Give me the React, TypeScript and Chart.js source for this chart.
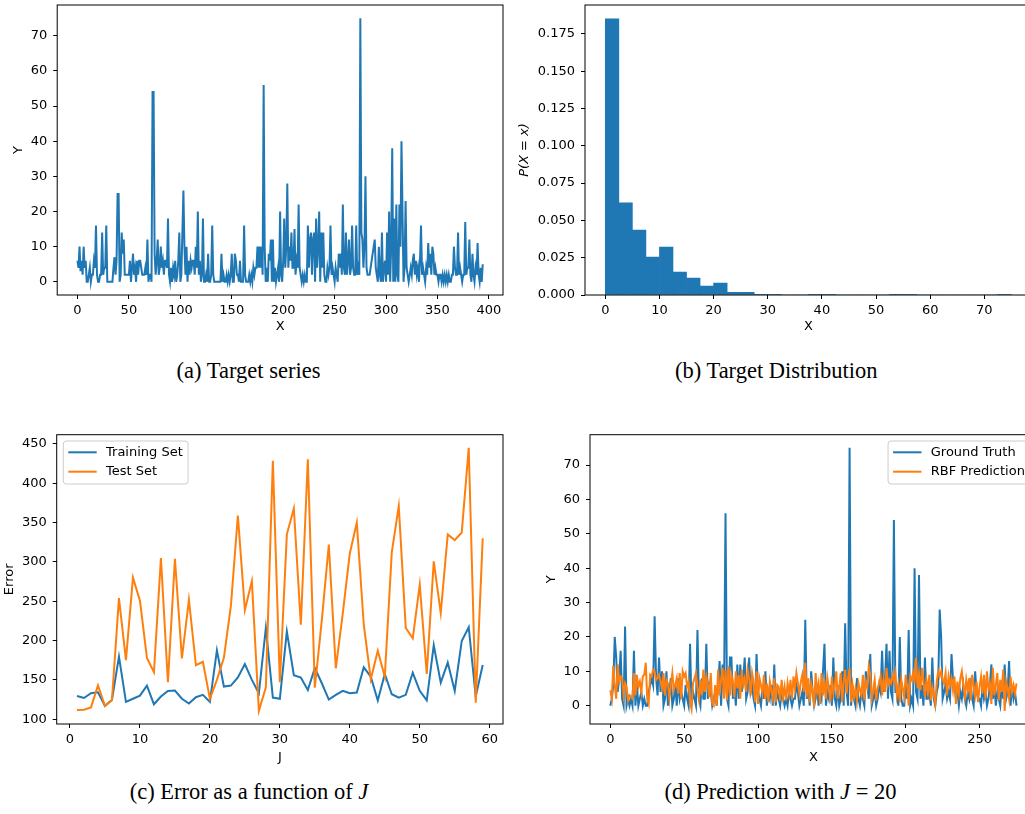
import React, { useEffect, useRef } from "react";
import { Chart, registerables } from "chart.js";

Chart.register(...registerables);

const FONT = "'DejaVu Sans', sans-serif";
const SERIF = "'Liberation Serif', 'Times New Roman', serif";
const BLUE = "#1f77b4";
const ORANGE = "#ff7f0e";

// ---------- (a) Target series ----------
const targetSeries = [
  6, 4, 10, 3, 6, 2, 10, 4, 6, 0,
  0, 2, 4, 0, 2, 2, 6, 4, 16, 2,
  0, 0, 2, 2, 14, 2, 4, 4, 16, 0,
  0, 0, 0, 0, 0, 4, 7, 2, 6, 25,
  25, 0, 2, 14, 8, 12, 2, 2, 2, 2,
  2, 6, 0, 4, 8, 2, 4, 0, 6, 2,
  6, 6, 4, 2, 2, 2, 4, 2, 12, 0,
  2, 2, 0, 54, 54, 8, 2, 6, 12, 2,
  4, 10, 4, 6, 2, 6, 6, 4, 18, 2,
  0, 4, 0, 4, 2, 6, 0, 2, 6, 14,
  0, 2, 14, 26, 10, 2, 10, 0, 6, 2,
  6, 4, 6, 6, 2, 10, 4, 20, 2, 6,
  0, 2, 18, 0, 0, 2, 0, 8, 0, 0,
  2, 16, 2, 0, 0, 0, 0, 0, 0, 0,
  8, 0, 2, 0, 0, 2, 0, 2, 0, 2,
  8, 0, 0, 8, 6, 2, 2, 0, 6, 0,
  0, 0, 16, 2, 0, 0, 0, 2, 0, 2,
  0, 4, 2, 4, 4, 10, 4, 10, 4, 10,
  2, 56, 10, 0, 4, 0, 8, 6, 12, 0,
  12, 0, 4, 0, 2, 4, 0, 20, 2, 0,
  6, 18, 4, 10, 28, 4, 10, 6, 14, 4,
  4, 15, 2, 6, 4, 22, 4, 2, 0, 2,
  0, 2, 0, 0, 16, 4, 12, 14, 2, 12,
  14, 0, 18, 4, 10, 20, 0, 14, 4, 14,
  2, 0, 0, 4, 2, 4, 16, 2, 4, 2,
  0, 4, 2, 0, 8, 4, 8, 2, 22, 4,
  2, 14, 2, 6, 12, 2, 4, 16, 4, 2,
  2, 16, 2, 4, 2, 75, 14, 12, 4, 10,
  30, 4, 2, 2, 2, 4, 6, 8, 10, 12,
  4, 2, 0, 10, 2, 0, 14, 0, 4, 6,
  0, 14, 2, 20, 0, 10, 38, 0, 18, 0,
  22, 2, 0, 22, 10, 40, 20, 0, 4, 23,
  4, 2, 0, 2, 4, 2, 6, 8, 2, 6,
  2, 4, 0, 6, 16, 2, 4, 2, 0, 4,
  2, 11, 4, 8, 2, 10, 8, 2, 4, 2,
  2, 0, 2, 2, 0, 2, 0, 2, 0, 2,
  0, 2, 0, 0, 2, 2, 10, 4, 2, 2,
  14, 2, 4, 2, 0, 2, 2, 17, 2, 4,
  4, 12, 2, 0, 8, 2, 0, 4, 2, 11,
  2, 0, 4, 0, 5,
];
const aXTicks = [0, 50, 100, 150, 200, 250, 300, 350, 400];
const aYTicks = [0, 10, 20, 30, 40, 50, 60, 70];

// ---------- (b) Target distribution ----------
const histBinWidth = 2.5;
const histDensity = [
  0.1851, 0.0618, 0.0436, 0.0255, 0.0322, 0.0154, 0.0114, 0.006, 0.008, 0.0018,
  0.0018, 0.0005, 0.0005, 0, 0, 0.0005, 0.0005, 0, 0, 0,
  0, 0.0005, 0.0005, 0, 0, 0, 0, 0, 0, 0.0005,
];
const bXTicks = [0, 10, 20, 30, 40, 50, 60, 70];
const bYTicks = [0, 0.025, 0.05, 0.075, 0.1, 0.125, 0.15, 0.175];

// ---------- (c) Error as a function of J ----------
const jValues = [
  1, 2, 3, 4, 5, 6, 7, 8, 9, 10, 11, 12, 13, 14, 15, 16, 17, 18, 19, 20,
  21, 22, 23, 24, 25, 26, 27, 28, 29, 30, 31, 32, 33, 34, 35, 36, 37, 38, 39, 40,
  41, 42, 43, 44, 45, 46, 47, 48, 49, 50, 51, 52, 53, 54, 55, 56, 57, 58, 59,
];
const trainingError = [
  129.6, 127, 133, 134.3, 117, 124.5, 179.6, 122, 126, 130,
  142.7, 119, 128.8, 136, 136.4, 126, 120, 128, 131, 122,
  187.6, 141.5, 142.7, 153, 170, 150, 133, 216, 127.5, 126,
  211.7, 156, 153, 137, 165, 145.7, 125, 131, 136, 133,
  134, 166, 154, 123.7, 157.6, 131.7, 127.5, 131, 159, 136,
  124, 194, 146.5, 172, 136, 199.5, 216.8, 128.8, 169,
];
const testError = [
  111.8, 112, 115, 143, 117, 124.5, 254, 175, 280, 250.6,
  178, 159.7, 305, 147, 304, 177.4, 252, 168.6, 173, 126,
  150, 178, 244, 359, 238.8, 275.6, 110.6, 140.6, 428.4, 147,
  335, 368, 220, 430.5, 140, 226, 322, 164.7, 235, 310.7,
  350, 219.8, 150.8, 187, 154, 312, 370.8, 216, 202.8, 271,
  157.6, 300.6, 235, 335, 327.7, 337.4, 445, 121, 330,
];
const cXTicks = [0, 10, 20, 30, 40, 50, 60];
const cYTicks = [100, 150, 200, 250, 300, 350, 400, 450];

// ---------- (d) Prediction with J = 20 ----------
const groundTruth = [
  0, 2, 6, 20, 14, 4, 8, 16, 2, 0,
  23, 0, 2, 0, 2, 0, 16, 0, 6, 0,
  2, 4, 0, 2, 0, 0, 4, 6, 8, 6,
  26, 8, 3, 14, 4, 10, 0, 2, 10, 0,
  4, 8, 0, 2, 6, 0, 8, 2, 4, 2,
  0, 6, 2, 0, 18, 0, 4, 2, 0, 22,
  2, 0, 8, 2, 2, 18, 2, 6, 4, 0,
  2, 4, 0, 6, 13, 0, 12, 4, 56, 2,
  0, 14, 14, 2, 6, 0, 12, 2, 12, 4,
  8, 14, 2, 4, 14, 4, 6, 2, 0, 15,
  4, 2, 0, 6, 2, 10, 0, 4, 2, 6,
  0, 12, 0, 4, 2, 0, 4, 2, 0, 2,
  0, 4, 2, 0, 2, 2, 6, 4, 0, 2,
  4, 0, 25, 2, 6, 0, 10, 4, 0, 2,
  6, 0, 4, 2, 10, 18, 0, 4, 2, 6,
  0, 14, 2, 0, 6, 0, 2, 10, 0, 24,
  4, 0, 75, 0, 6, 2, 0, 8, 2, 0,
  4, 2, 0, 10, 6, 2, 15, 0, 2, 4,
  0, 2, 6, 4, 16, 4, 8, 18, 2, 16,
  4, 2, 54, 4, 4, 0, 20, 2, 0, 0,
  6, 2, 22, 0, 2, 0, 40, 4, 2, 38,
  2, 6, 0, 14, 2, 2, 4, 0, 14, 2,
  0, 4, 6, 28, 20, 2, 4, 6, 2, 4,
  2, 15, 8, 6, 2, 4, 0, 4, 2, 6,
  2, 0, 4, 2, 6, 2, 0, 10, 4, 2,
  2, 0, 6, 2, 4, 0, 2, 6, 12, 2,
  6, 0, 4, 2, 0, 6, 2, 12, 2, 4,
  13, 0, 6, 2, 4, 0,
];
const rbfPrediction = [
  4.5, 2.0, 11.5, 6.0, 2.0, 12.0, 7.0, 8.5, 8.0, 3.0,
  6.5, 5.5, 1.5, 3.0, 2.5, 2.0, 9.5, 3.0, 9.0, 5.5,
  7.0, 4.0, 8.5, 9.0, 12.5, 2.0, 0.5, 9.0, 8.5, 10.5,
  10.0, 7.5, 8.0, 9.0, 7.0, 5.0, 9.5, 3.0, 7.5, 6.5,
  2.0, 6.0, 9.5, 4.5, 6.0, 8.0, 3.5, 9.5, 2.0, 10.0,
  8.5, 9.5, 5.5, 7.0, 1.0, -1.0, 6.5, 8.0, 9.5, 5.0,
  2.0, 7.5, 3.0, 10.5, 4.0, 8.5, 6.0, 2.5, 9.5, 0.5,
  0.0, 6.0, 0.0, 10.5, 3.0, 7.5, 11.0, 2.0, 10.5, 1.5,
  11.5, 3.0, 9.0, 7.0, 2.5, 10.0, 5.0, 9.0, 2.0, 10.5,
  6.0, 8.0, 4.0, 10.5, 8.0, 3.0, 9.5, 7.0, 1.0, 10.0,
  0.5, 8.0, 6.0, 3.5, 9.0, 2.0, 6.5, 1.0, 7.0, 4.5,
  2.0, 8.0, 1.0, 6.0, 5.5, 1.5, 7.5, 2.5, 5.5, 1.5,
  6.5, 3.5, 7.5, 2.0, 8.5, 5.0, 9.5, 6.5, 3.5, 7.0,
  9.0, 4.0, 12.5, 2.5, 8.0, 1.0, 6.5, 4.5, -0.5, 9.5,
  4.0, 6.5, 0.5, 9.5, 3.0, 7.5, 2.0, 8.0, 5.0, 1.0,
  8.5, 3.5, 6.0, 10.0, 2.0, 5.5, 9.5, 1.0, 7.0, 10.5,
  3.5, 8.0, 11.0, 1.0, 6.0, 2.5, 5.0, 1.5, 6.5, 4.5,
  3.0, 9.0, 1.5, 7.0, 5.5, 11.5, 9.0, 2.0, 4.5, 7.5,
  1.5, 5.0, 6.5, 8.5, 3.0, 7.5, 4.0, 11.0, 6.0, 7.5,
  6.5, 9.0, 7.0, 9.5, 3.0, 6.0, 1.0, 7.5, 5.0, 2.5,
  9.0, 5.5, 0.0, 8.5, 7.5, 9.5, 6.5, 14.0, 5.0, 9.0,
  4.5, 11.0, 7.0, 2.5, 7.5, 4.0, 9.0, 1.5, 5.5, 3.5,
  0.5, 7.0, 10.0, 8.5, 10.0, 7.5, 6.5, 9.5, 3.0, 8.5,
  6.0, 8.0, 4.5, 8.5, 0.5, 7.0, 3.5, 8.0, 10.0, 6.0,
  2.5, 7.5, 4.5, 8.0, 1.5, 9.0, 6.0, 3.0, 7.0, 1.0,
  5.5, 8.5, 3.5, 9.0, 2.0, 10.0, 5.0, 6.5, 0.5, 11.0,
  3.0, 6.0, 9.5, 1.5, 7.5, 4.0, 10.5, -1.5, 7.0, 5.0,
  2.0, 8.5, 4.0, 6.0, 3.5, 6.5,
];
const dXTicks = [0, 50, 100, 150, 200, 250];
const dYTicks = [0, 10, 20, 30, 40, 50, 60, 70];

// ---------- helpers ----------
const framePlugin = {
  id: "frame",
  afterDatasetsDraw(chart: any) {
    const { ctx, chartArea: a } = chart;
    ctx.save();
    ctx.strokeStyle = "#000";
    ctx.lineWidth = 1;
    ctx.strokeRect(a.left, a.top, a.right - a.left, a.bottom - a.top);
    ctx.restore();
  },
};

const boxLegendPlugin = {
  id: "boxLegend",
  afterDraw(chart: any, _args: any, opts: any) {
    if (!opts || !opts.corner) return;
    const { ctx, chartArea: a } = chart;
    const ds = chart.data.datasets;
    ctx.save();
    ctx.font = `13px ${FONT}`;
    const tw = Math.max(...ds.map((d: any) => ctx.measureText(d.label).width));
    const w = 43 + tw + 5;
    const h = 43;
    const x0 = opts.corner === "left" ? a.left + 6.6 : a.right - 6.6 - w;
    const y0 = a.top + 6.3;
    ctx.beginPath();
    if (ctx.roundRect) ctx.roundRect(x0, y0, w, h, 3);
    else ctx.rect(x0, y0, w, h);
    ctx.fillStyle = "rgba(255,255,255,0.8)";
    ctx.fill();
    ctx.strokeStyle = "#cccccc";
    ctx.lineWidth = 1;
    ctx.stroke();
    ds.forEach((d: any, i: number) => {
      const y = y0 + 11.3 + i * 19.4;
      ctx.strokeStyle = d.borderColor;
      ctx.lineWidth = 2;
      ctx.beginPath();
      ctx.moveTo(x0 + 5, y);
      ctx.lineTo(x0 + 33.4, y);
      ctx.stroke();
      ctx.fillStyle = "#000";
      ctx.textBaseline = "middle";
      ctx.textAlign = "left";
      ctx.fillText(d.label, x0 + 42.7, y);
    });
    ctx.restore();
  },
};

function mkScale(
  isX: boolean,
  min: number,
  max: number,
  tickVals: number[],
  fmt: (v: number) => string,
  title: string,
  titlePad: number,
  fixed: number,
  italic = false
) {
  return {
    type: "linear",
    position: isX ? "bottom" : "left",
    min,
    max,
    bounds: "data",
    offset: false,
    afterBuildTicks: (s: any) => {
      s.ticks = tickVals.map((v) => ({ value: v }));
    },
    afterFit: (s: any) => {
      if (isX) s.height = fixed;
      else s.width = fixed;
      s.paddingTop = 0;
      s.paddingBottom = 0;
      s.paddingLeft = 0;
      s.paddingRight = 0;
    },
    grid: {
      display: true,
      drawOnChartArea: false,
      drawTicks: true,
      offset: false,
      tickLength: 4,
      color: "#000",
      lineWidth: 1,
    },
    border: { display: false },
    ticks: {
      color: "#000",
      font: { family: FONT, size: 13 },
      padding: isX ? 3.5 : 6,
      autoSkip: false,
      maxRotation: 0,
      minRotation: 0,
      callback: (v: any) => fmt(Number(v)),
    },
    title: {
      display: true,
      text: title,
      color: "#000",
      font: { family: FONT, size: 13, style: italic ? "italic" : "normal" },
      padding: isX ? { top: 0, bottom: titlePad } : { top: titlePad, bottom: 0 },
    },
  };
}

const plain = (v: number) => String(v);

function baseOptions(xs: any, ys: any, pad: any, legendCorner?: string) {
  return {
    responsive: false,
    animation: false,
    devicePixelRatio: 1,
    layout: { padding: pad, autoPadding: false },
    plugins: {
      legend: { display: false },
      tooltip: { enabled: false },
      boxLegend: { corner: legendCorner || "" },
    },
    elements: { point: { radius: 0 } },
    scales: { x: xs, y: ys },
  };
}

function useChart(ref: any, makeConfig: () => any) {
  useEffect(() => {
    const chart = new Chart(ref.current, makeConfig());
    return () => chart.destroy();
  }, []);
}

const LW = 2;

function PanelA() {
  const ref = useRef<HTMLCanvasElement>(null);
  useChart(ref, () => ({
    type: "line",
    data: {
      datasets: [
        {
          label: "Target",
          data: targetSeries.map((y, i) => ({ x: i, y })),
          borderColor: BLUE,
          borderWidth: LW,
          pointRadius: 0,
          tension: 0,
        },
      ],
    },
    options: baseOptions(
      mkScale(true, -19.7, 413.7, aXTicks, plain, "X", 5.2, 45),
      mkScale(false, -3.75, 78.75, aYTicks, plain, "Y", 10.5, 57.2),
      { left: 0, top: 5, right: 3, bottom: 0 }
    ),
    plugins: [framePlugin, boxLegendPlugin],
  }));
  return <canvas ref={ref} width={506} height={340} style={{ position: "absolute", left: 0, top: 0 }} />;
}

function PanelB() {
  const ref = useRef<HTMLCanvasElement>(null);
  useChart(ref, () => ({
    type: "bar",
    data: {
      datasets: [
        {
          label: "Density",
          data: histDensity.map((y, i) => ({ x: i * histBinWidth + histBinWidth / 2, y })),
          backgroundColor: BLUE,
          borderWidth: 0,
          barPercentage: 1,
          categoryPercentage: 1,
        },
      ],
    },
    options: baseOptions(
      mkScale(true, -3.75, 78.75, bXTicks, plain, "X", 5.2, 45),
      mkScale(false, 0, 0.1944, bYTicks, (v) => v.toFixed(3), "P(X = x)", 11.7, 80, true),
      { left: 0, top: 5, right: 8.3, bottom: 0 }
    ),
    plugins: [framePlugin, boxLegendPlugin],
  }));
  return <canvas ref={ref} width={535} height={340} style={{ position: "absolute", left: 505, top: 0 }} />;
}

function PanelC() {
  const ref = useRef<HTMLCanvasElement>(null);
  useChart(ref, () => ({
    type: "line",
    data: {
      datasets: [
        {
          label: "Training Set",
          data: jValues.map((x, i) => ({ x, y: trainingError[i] })),
          borderColor: BLUE,
          borderWidth: LW,
          pointRadius: 0,
          tension: 0,
          order: 1,
        },
        {
          label: "Test Set",
          data: jValues.map((x, i) => ({ x, y: testError[i] })),
          borderColor: ORANGE,
          borderWidth: LW,
          pointRadius: 0,
          tension: 0,
          order: 0,
        },
      ],
    },
    options: baseOptions(
      mkScale(true, -1.9, 61.9, cXTicks, plain, "J", 4.2, 46),
      mkScale(false, 93.9, 461.7, cYTicks, plain, "Error", 2.2, 56.7),
      { left: 0, top: 4.7, right: 3, bottom: 0 },
      "left"
    ),
    plugins: [framePlugin, boxLegendPlugin],
  }));
  return <canvas ref={ref} width={506} height={340} style={{ position: "absolute", left: 0, top: 430 }} />;
}

function PanelD() {
  const ref = useRef<HTMLCanvasElement>(null);
  useChart(ref, () => ({
    type: "line",
    data: {
      datasets: [
        {
          label: "Ground Truth",
          data: groundTruth.map((y, i) => ({ x: i, y })),
          borderColor: BLUE,
          borderWidth: LW,
          pointRadius: 0,
          tension: 0,
          order: 1,
        },
        {
          label: "RBF Prediction",
          data: rbfPrediction.map((y, i) => ({ x: i, y })),
          borderColor: ORANGE,
          borderWidth: LW,
          pointRadius: 0,
          tension: 0,
          order: 0,
        },
      ],
    },
    options: baseOptions(
      mkScale(true, -13.75, 288.75, dXTicks, plain, "X", 4.2, 46),
      mkScale(false, -5.325, 78.825, dYTicks, plain, "Y", 13.9, 60),
      { left: 0, top: 4.7, right: 8.2, bottom: 0 },
      "right"
    ),
    plugins: [framePlugin, boxLegendPlugin],
  }));
  return <canvas ref={ref} width={515} height={340} style={{ position: "absolute", left: 530, top: 430 }} />;
}

function Caption({ cx, top, children }: { cx: number; top: number; children: any }) {
  return (
    <div
      style={{
        position: "absolute",
        left: cx - 200,
        top,
        width: 400,
        textAlign: "center",
        fontFamily: SERIF,
        fontSize: 22.5,
        lineHeight: "22.5px",
        color: "#000",
        whiteSpace: "nowrap",
      }}
    >
      {children}
    </div>
  );
}

export default function App() {
  return (
    <div
      style={{
        position: "fixed",
        left: 0,
        top: 0,
        width: 1025,
        height: 814,
        overflow: "hidden",
        background: "#fff",
      }}
    >
      <PanelA />
      <PanelB />
      <PanelC />
      <PanelD />
      <Caption cx={248.5} top={359.5}>(a) Target series</Caption>
      <Caption cx={776.3} top={359.5}>(b) Target Distribution</Caption>
      <Caption cx={249} top={781.2}>
        (c) Error as a function of <i>J</i>
      </Caption>
      <Caption cx={780.5} top={781.2}>
        (d) Prediction with <i>J</i> = 20
      </Caption>
    </div>
  );
}
